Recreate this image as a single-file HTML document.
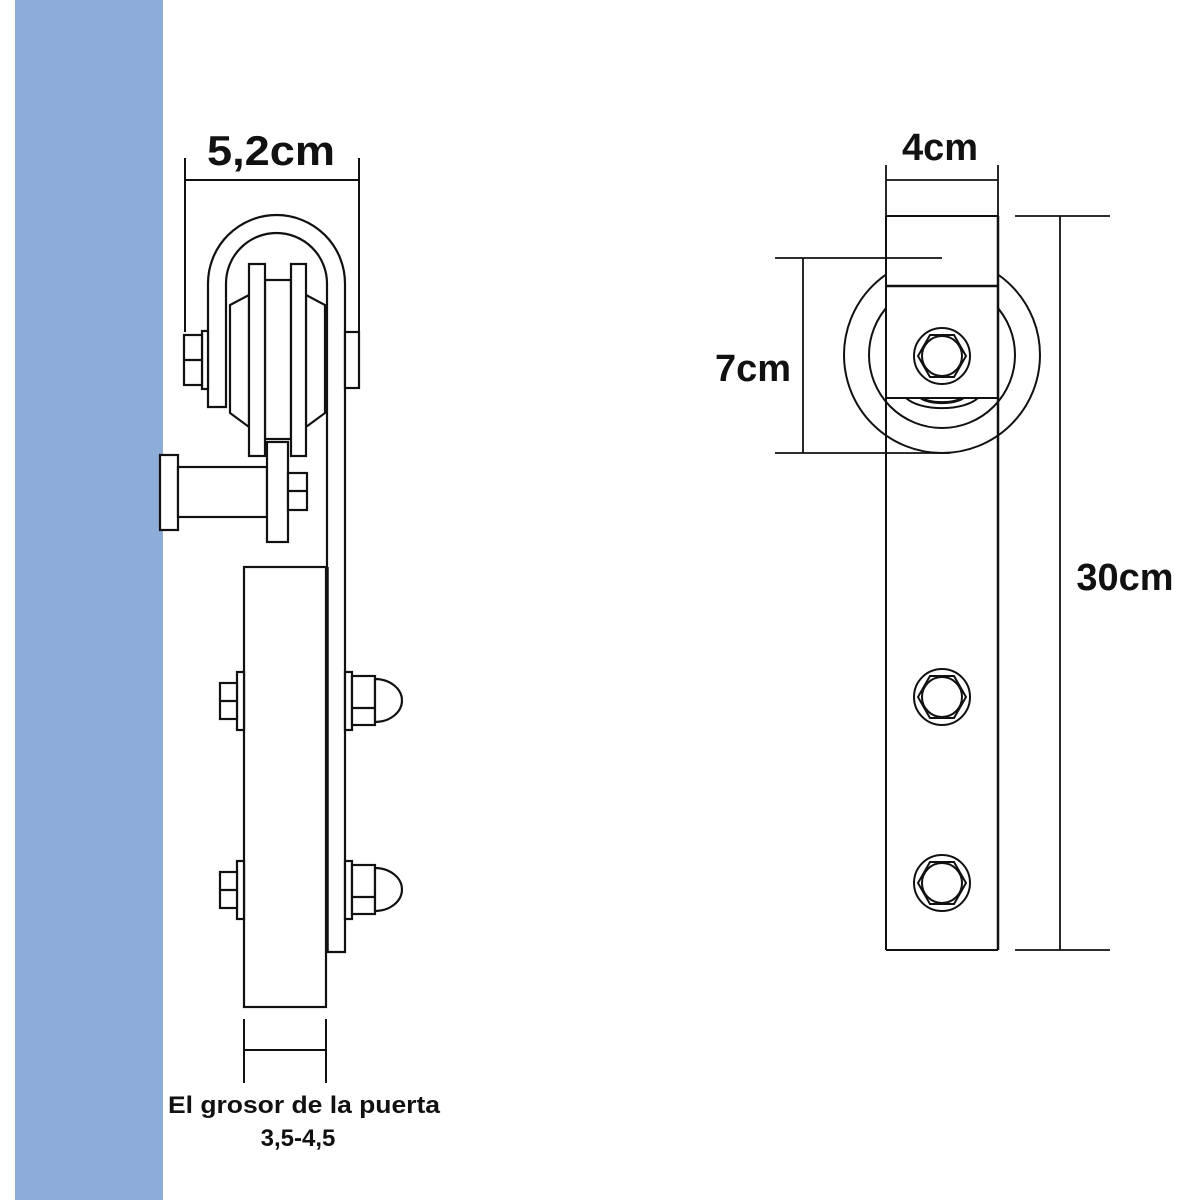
<!DOCTYPE html>
<html><head><style>
html,body{margin:0;padding:0;background:#fff;}
svg{display:block;}
text{font-family:"Liberation Sans",sans-serif;font-weight:bold;fill:#111;}
</style></head><body>
<svg width="1200" height="1200" viewBox="0 0 1200 1200" xmlns="http://www.w3.org/2000/svg">
<rect x="0" y="0" width="1200" height="1200" fill="#fff"/>
<rect x="15" y="0" width="148" height="1200" fill="#8eacd8"/>
<g fill="#fff" stroke="#111" stroke-width="2.2">
<path d="M208,407 L208,283.5 A68.5,68.5 0 0 1 345,283.5 L345,952 L327,952 L327,283.5 A50.5,50.5 0 0 0 226,283.5 L226,407 Z"/>
<path d="M249,295 L230,305 L230,413 L249,427 Z"/>
<path d="M306,295 L325,305 L325,413 L306,427 Z"/>
<rect x="265" y="280" width="26" height="159"/>
<rect x="249" y="264" width="16" height="192"/>
<rect x="291" y="264" width="15" height="192"/>
<rect x="202" y="331" width="6" height="58"/>
<rect x="184" y="335" width="18" height="50"/>
<line x1="184" y1="360" x2="202" y2="360"/>
<rect x="345" y="332" width="14" height="56"/>
<rect x="160" y="455" width="18" height="75"/>
<rect x="178" y="467" width="89" height="50"/>
<rect x="267" y="442" width="21" height="100"/>
<rect x="288" y="473" width="19" height="37"/>
<line x1="288" y1="491" x2="307" y2="491"/>
<rect x="244" y="567" width="82" height="440"/>
<line x1="327" y1="567" x2="327" y2="952" stroke-width="3.5"/>
<g id="b1">
<rect x="237" y="672" width="7" height="58"/>
<rect x="220" y="683" width="17" height="36"/>
<line x1="220" y1="701" x2="237" y2="701"/>
<rect x="345" y="672" width="7" height="58"/>
<rect x="352" y="676" width="23" height="49"/>
<line x1="352" y1="708" x2="375" y2="708"/>
<path d="M375,679 A27,21.5 0 0 1 375,722 Z"/>
</g>
<use href="#b1" transform="translate(0,189)"/>
</g>
<g stroke="#111" stroke-width="2" fill="none">
<line x1="185" y1="158" x2="185" y2="332"/>
<line x1="359" y1="158" x2="359" y2="332"/>
<line x1="185" y1="180" x2="359" y2="180"/>
<line x1="244" y1="1019" x2="244" y2="1083"/>
<line x1="326" y1="1019" x2="326" y2="1083"/>
<line x1="244" y1="1050" x2="326" y2="1050"/>
</g>
<text x="271" y="165" font-size="42" text-anchor="middle" textLength="128" lengthAdjust="spacingAndGlyphs">5,2cm</text>
<text x="304" y="1113" font-size="24" text-anchor="middle" textLength="272" lengthAdjust="spacingAndGlyphs">El grosor de la puerta</text>
<text x="298" y="1146" font-size="24" text-anchor="middle">3,5-4,5</text>
<g fill="none" stroke="#111" stroke-width="2">
<circle cx="942" cy="355" r="98"/>
<circle cx="942" cy="355" r="73"/>
<rect x="886" y="216" width="112" height="182" fill="#fff" stroke="none"/>
<path d="M906,398 A40,18 0 0 0 978,398"/>
<path d="M921,398 A25,10 0 0 0 963,398" stroke-width="3"/>
<line x1="886" y1="216" x2="886" y2="950"/>
<line x1="998" y1="216" x2="998" y2="950" stroke-width="2.5"/>
<line x1="886" y1="216" x2="998" y2="216"/>
<line x1="886" y1="286" x2="998" y2="286" stroke-width="2.5"/>
<line x1="886" y1="398" x2="998" y2="398"/>
<line x1="886" y1="950" x2="998" y2="950"/>
</g>
<g fill="#fff" stroke="#111" stroke-width="2">
<g id="rb">
<circle cx="942" cy="356" r="28"/>
<polygon points="966,356 954,377 930,377 918,356 930,335 954,335"/>
<circle cx="942" cy="356" r="20"/>
</g>
<use href="#rb" transform="translate(0,341)"/>
<use href="#rb" transform="translate(0,527)"/>
</g>
<g stroke="#111" stroke-width="1.8" fill="none">
<line x1="886" y1="165" x2="886" y2="216"/>
<line x1="998" y1="165" x2="998" y2="216"/>
<line x1="886" y1="180" x2="998" y2="180"/>
<line x1="775" y1="258" x2="942" y2="258"/>
<line x1="775" y1="453" x2="950" y2="453"/>
<line x1="803" y1="258" x2="803" y2="453"/>
<line x1="1015" y1="216" x2="1110" y2="216"/>
<line x1="1015" y1="950" x2="1110" y2="950"/>
<line x1="1060" y1="216" x2="1060" y2="950"/>
</g>
<text x="940" y="160" font-size="38" text-anchor="middle">4cm</text>
<text x="753" y="381" font-size="38" text-anchor="middle">7cm</text>
<text x="1125" y="590" font-size="38" text-anchor="middle">30cm</text>
</svg>
</body></html>
